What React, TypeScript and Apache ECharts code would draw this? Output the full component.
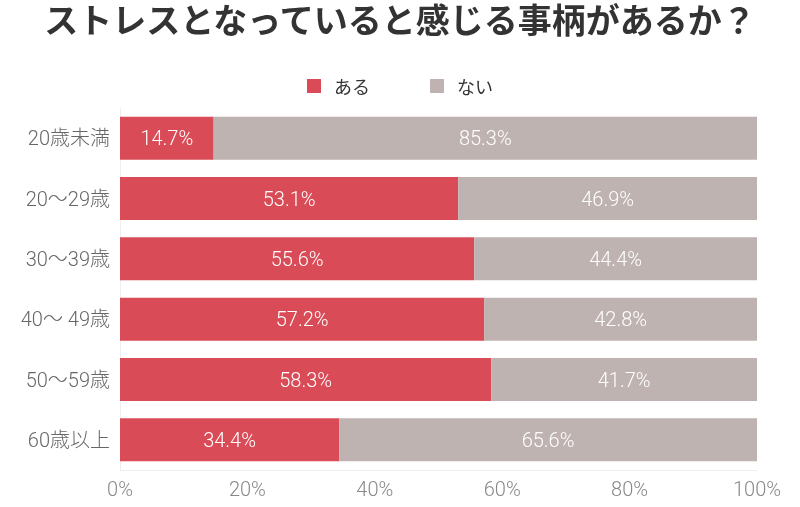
import React, { useEffect, useRef } from "react";
import * as echarts from "echarts";

const categories = ["20歳未満", "20～29歳", "30～39歳", "40～ 49歳", "50～59歳", "60歳以上"];
const aruValues = [14.7, 53.1, 55.6, 57.2, 58.3, 34.4];
const naiValues = [85.3, 46.9, 44.4, 42.8, 41.7, 65.6];
const seriesNames = ["ある", "ない"];
const titleText = "ストレスとなっていると感じる事柄があるか？";

const FONT = "Roboto, 'Noto Sans CJK JP', sans-serif";

export default function App() {
  const ref = useRef<HTMLDivElement>(null);
  useEffect(() => {
    if (!ref.current) return;
    const chart = echarts.init(ref.current, null, { renderer: "svg" });
    const label = {
      show: true,
      position: "inside",
      color: "#ffffff",
      fontSize: 20,
      fontWeight: 300,
      fontFamily: FONT,
      formatter: (p: any) => p.value.toFixed(1) + "%",
    };
    chart.setOption({
      animation: false,
      title: {
        text: titleText,
        left: "center",
        top: 1,
        padding: 0,
        textStyle: {
          fontSize: 34,
          fontWeight: "bold",
          color: "#333333",
          fontFamily: "'Noto Sans CJK JP', sans-serif",
        },
      },
      legend: {
        data: seriesNames,
        top: 72,
        left: "center",
        icon: "rect",
        itemWidth: 14,
        itemHeight: 14,
        itemGap: 60,
        textStyle: {
          fontSize: 18,
          color: "#333333",
          fontFamily: "'Noto Sans CJK JP', sans-serif",
          padding: [0, 0, 0, 8],
        },
      },
      grid: { left: 120, right: 43, top: 108, bottom: 37, containLabel: false },
      xAxis: {
        type: "value",
        min: 0,
        max: 100,
        interval: 20,
        axisLabel: {
          formatter: "{value}%",
          fontSize: 20,
          fontWeight: 300,
          color: "#888888",
          fontFamily: FONT,
          margin: 9,
        },
        axisLine: { show: true, lineStyle: { color: "#eeeeee" } },
        axisTick: { show: false },
        splitLine: { show: false },
      },
      yAxis: {
        type: "category",
        data: categories,
        inverse: true,
        axisLabel: {
          fontSize: 20,
          fontWeight: 300,
          color: "#666666",
          fontFamily: FONT,
          margin: 10,
        },
        axisLine: { show: true, lineStyle: { color: "#eeeeee" } },
        axisTick: { show: false },
        splitLine: { show: false },
      },
      series: [
        {
          name: seriesNames[0],
          type: "bar",
          stack: "total",
          barWidth: 43,
          data: aruValues,
          itemStyle: { color: "#d94b56" },
          label,
        },
        {
          name: seriesNames[1],
          type: "bar",
          stack: "total",
          barWidth: 43,
          data: naiValues,
          itemStyle: { color: "#bfb3b1" },
          label,
        },
      ],
    });
    return () => chart.dispose();
  }, []);
  return (
    <div
      ref={ref}
      style={{ position: "fixed", left: 0, top: 0, width: 800, height: 507 }}
    />
  );
}
